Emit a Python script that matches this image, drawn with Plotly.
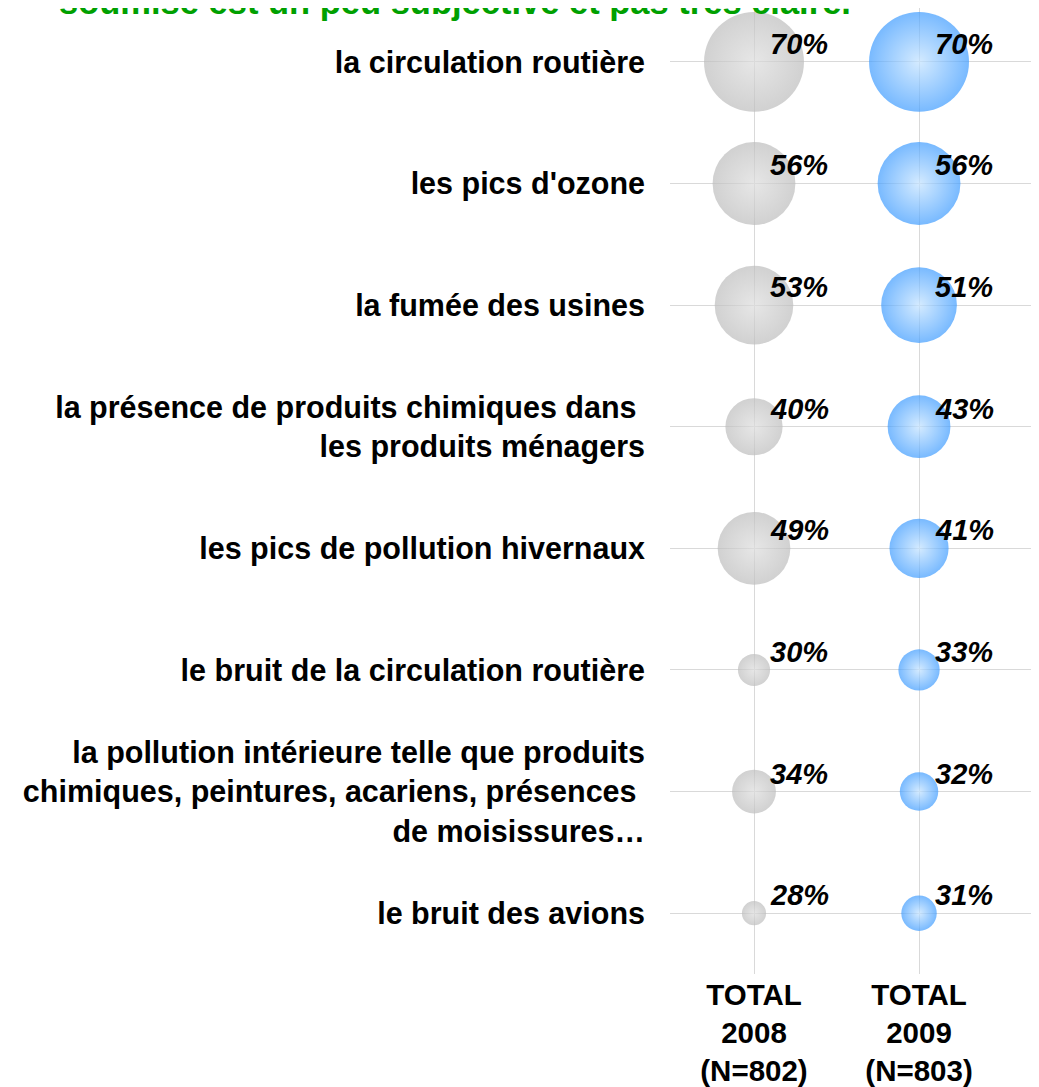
import plotly.graph_objects as go

# données
items = [
    "la circulation routière",
    "les pics d'ozone",
    "la fumée des usines",
    "la présence de produits chimiques dans\u00a0<br>les produits ménagers",
    "les pics de pollution hivernaux",
    "le bruit de la circulation routière",
    "la pollution intérieure telle que produits<br>chimiques, peintures, acariens, présences\u00a0<br>de moisissures…",
    "le bruit des avions",
]
groups = ["TOTAL<br>2008<br>(N=802)", "TOTAL<br>2009<br>(N=803)"]
pct_2008 = [70, 56, 53, 40, 49, 30, 34, 28]
pct_2009 = [70, 56, 51, 43, 41, 33, 32, 31]

rows = list(range(1, len(items) + 1))
BASE = 25.4  # taille des bulles : aire ~ (valeur - base)

styles = [
    (1, pct_2008, "#bdbdbd", "#dcdcdc"),
    (2, pct_2009, "#3f9cff", "#c2e2ff"),
]

fig = go.Figure()
for xcol, vals, edge, center in styles:
    fig.add_trace(go.Scatter(
        x=[xcol] * len(vals),
        y=rows,
        mode="markers",
        marker=dict(
            size=[v - BASE for v in vals],
            sizemode="area",
            sizeref=2 / 224.0,
            color=edge,
            gradient=dict(type="radial", color=center),
            line=dict(width=0),
        ),
        hoverinfo="skip",
        showlegend=False,
    ))
    for r, v in zip(rows, vals):
        fig.add_annotation(
            x=xcol, y=r, xref="x", yref="y",
            text=f"<b><i>{v}%</i></b>",
            showarrow=False, xanchor="left", yanchor="middle",
            xshift=14, yshift=18,
            font=dict(family="Liberation Sans, Arial", size=29, color="black"),
        )

fig.add_annotation(
    xref="paper", yref="paper", x=-1.66, y=1,
    xanchor="left", yanchor="bottom", yshift=-15,
    text="<b>soumise est un peu subjective et pas très claire.</b>",
    showarrow=False,
    font=dict(family="Liberation Sans, Arial", size=34.5, color="#00a000"),
)

fig.update_layout(
    width=1031, height=1079,
    margin=dict(l=662, r=0, t=0, b=111),
    plot_bgcolor="white", paper_bgcolor="white",
    font=dict(family="Liberation Sans, Arial", size=30.5, color="black"),
    xaxis=dict(
        range=[0.491, 2.727],
        tickvals=[1, 2], ticktext=[f"<b>{g}</b>" for g in groups],
        tickfont=dict(size=29.5),
        showgrid=True, gridcolor="#d9d9d9", gridwidth=1,
        zeroline=False, showline=False, ticks="",
    ),
    yaxis=dict(
        range=[8.5, 0.557],
        tickvals=rows, ticktext=[f"<b>{t}</b>" for t in items],
        showgrid=True, gridcolor="#d9d9d9", gridwidth=1,
        zeroline=False, showline=False, ticks="",
        ticklabelstandoff=24,
    ),
)

fig.write_html("out.html")
